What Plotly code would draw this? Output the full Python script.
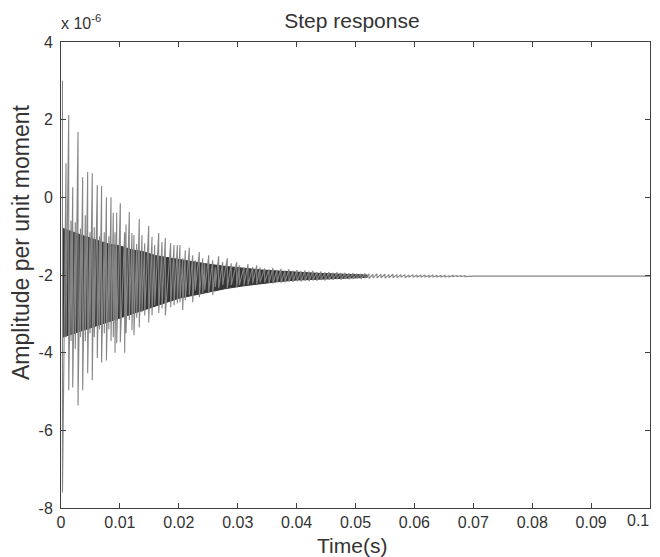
import plotly.graph_objects as go

# Spikes: time (s), upper value, lower value (x 1e-6)
spike_t = [0.00025, 0.00085, 0.00131, 0.00170, 0.00199, 0.00243, 0.00289, 0.00331, 0.00368, 0.00413,
           0.00453, 0.00492, 0.00531, 0.00565, 0.00616, 0.00654, 0.00689, 0.00735, 0.00771, 0.00812,
           0.00849, 0.00888, 0.00917, 0.00946, 0.01007, 0.01081, 0.01104, 0.01160, 0.01205, 0.01239,
           0.01285, 0.01329, 0.01375, 0.01421, 0.01489, 0.01545, 0.01591, 0.01659, 0.01715, 0.01771,
           0.01862, 0.01919, 0.01975, 0.02020, 0.02066, 0.02110, 0.02178, 0.02236, 0.02280, 0.02348,
           0.02406, 0.02440, 0.02508, 0.02576, 0.02620, 0.02677, 0.02745, 0.02823, 0.02891, 0.02983,
           0.03027, 0.03107, 0.03175, 0.03255, 0.03323, 0.03379, 0.03458,
           0.03531, 0.03599, 0.03667, 0.03735, 0.03803, 0.03871, 0.03939, 0.04007, 0.04075, 0.04143,
           0.04211, 0.04278, 0.04346, 0.04414, 0.04482, 0.04550, 0.04618, 0.04686, 0.04754, 0.04822,
           0.04890, 0.04958, 0.05025, 0.05093, 0.05161, 0.05229, 0.05297, 0.05365, 0.05433, 0.05501,
           0.05569, 0.05637, 0.05705, 0.05772, 0.05840, 0.05908, 0.05976, 0.06044, 0.06112, 0.06180,
           0.06248, 0.06316, 0.06384, 0.06452, 0.06520, 0.06587, 0.06655, 0.06723, 0.06791, 0.06859]
spike_hi = [3.0, 0.88, 2.12, -0.6, 0.26, -0.64, 1.68, -0.8, 0.52, -0.46,
            0.65, -0.9, 0.62, -0.77, 0.31, -1.0, 0.29, -0.9, 0.0, -1.0,
            0.0, -0.4, -0.9, -0.4, -0.15, -0.9, -0.7, -0.38, -0.92, -0.97,
            -1.2, -0.56, -0.97, -1.18, -0.74, -1.02, -1.23, -0.92, -1.15, -1.05,
            -1.18, -1.23, -1.23, -1.23, -1.57, -1.36, -1.3, -1.49, -1.62, -1.41,
            -1.57, -1.70, -1.49, -1.62, -1.8, -1.52, -1.67, -1.57, -1.70, -1.67,
            -1.75, -1.8, -1.72, -1.8, -1.75, -1.8, -1.83,
            -1.85, -1.82, -1.87, -1.84, -1.88, -1.85, -1.89, -1.87, -1.90, -1.88,
            -1.91, -1.89, -1.92, -1.91, -1.93, -1.92, -1.94, -1.93, -1.95, -1.94,
            -1.96, -1.95, -1.96, -1.97, -1.96, -1.97, -1.98, -1.97, -1.98, -1.98,
            -1.99, -1.98, -1.99, -1.99, -1.99, -2.00, -1.99, -2.00, -2.00, -2.00,
            -2.01, -2.00, -2.01, -2.01, -2.01, -2.02, -2.01, -2.02, -2.02, -2.02]
spike_lo = [-7.6, -3.6, -4.97, -3.7, -4.9, -3.9, -5.36, -3.6, -4.97, -3.7,
            -4.53, -3.5, -4.71, -3.6, -4.14, -3.4, -4.25, -3.5, -4.2, -3.4,
            -3.7, -3.6, -4.0, -3.76, -3.73, -4.0, -3.5, -3.16, -3.42, -3.55,
            -3.1, -3.35, -2.96, -3.04, -3.22, -3.04, -2.78, -2.98, -2.86, -3.04,
            -2.83, -2.78, -2.73, -2.7, -2.9, -2.65, -2.52, -2.7, -2.39, -2.57,
            -2.47, -2.39, -2.44, -2.52, -2.31, -2.34, -2.26, -2.34, -2.26, -2.31,
            -2.26, -2.26, -2.26, -2.21, -2.24, -2.19, -2.19,
            -2.20, -2.22, -2.18, -2.20, -2.19, -2.17, -2.18, -2.16, -2.17, -2.15,
            -2.16, -2.14, -2.15, -2.13, -2.14, -2.12, -2.13, -2.11, -2.12, -2.10,
            -2.11, -2.10, -2.09, -2.10, -2.08, -2.09, -2.08, -2.08, -2.07, -2.08,
            -2.07, -2.07, -2.07, -2.06, -2.07, -2.06, -2.06, -2.06, -2.06, -2.05,
            -2.06, -2.05, -2.05, -2.05, -2.05, -2.05, -2.04, -2.04, -2.04, -2.04]

# Settled tail
tail_t = [0.0700, 0.1000]
tail_v = [-2.03, -2.03]

# Dense dark band
band_t = [0.0003, 0.002, 0.004, 0.006, 0.008, 0.010, 0.012, 0.014, 0.016, 0.018,
          0.020, 0.022, 0.025, 0.028, 0.031, 0.034, 0.037, 0.040, 0.044, 0.048, 0.052]
band_hi = [-0.8, -0.9, -1.0, -1.1, -1.2, -1.25, -1.35, -1.4, -1.5, -1.55,
           -1.6, -1.65, -1.72, -1.78, -1.83, -1.87, -1.9, -1.93, -1.96, -1.98, -2.0]
band_lo = [-3.6, -3.5, -3.4, -3.3, -3.2, -3.1, -3.0, -2.9, -2.8, -2.7,
           -2.6, -2.55, -2.45, -2.35, -2.28, -2.22, -2.17, -2.13, -2.1, -2.08, -2.06]

x_ticks = [0, 0.01, 0.02, 0.03, 0.04, 0.05, 0.06, 0.07, 0.08, 0.09, 0.1]
x_labels = ["0", "0.01", "0.02", "0.03", "0.04", "0.05", "0.06", "0.07", "0.08", "0.09", "0.1"]
y_ticks = [-8, -6, -4, -2, 0, 2, 4]
y_labels = ["-8", "-6", "-4", "-2", "0", "2", "4"]

# build zigzag path from the read spikes
zx, zy = [], []
for t, h, l in zip(spike_t, spike_hi, spike_lo):
    zx += [t, t]
    zy += [h, l]
zx += tail_t
zy += tail_v

fig = go.Figure()
fig.add_trace(go.Scatter(x=band_t + band_t[::-1], y=band_hi + band_lo[::-1],
                         fill="toself", fillcolor="#363636", mode="lines",
                         line=dict(color="#363636", width=1), hoverinfo="skip"))
fig.add_trace(go.Scatter(x=zx, y=zy, mode="lines",
                         line=dict(color="#858585", width=1.1)))

font_family = "Liberation Sans, Arial, sans-serif"
txt = "#333333"
# the last x label sits at the right edge; it is drawn as an annotation nudged inward
shown_x_labels = x_labels[:-1] + [""]

# the page body adds an 8px offset, so the figure is 8px smaller on each lead side
fig.update_layout(
    width=652, height=549,
    margin=dict(l=53, r=10, t=34, b=49),
    paper_bgcolor="white", plot_bgcolor="white",
    showlegend=False,
    font=dict(family=font_family, color=txt, size=16),
    title=dict(text="Step response", x=0.494, xanchor="center", xref="paper",
               y=1 - 13 / 549, yanchor="middle", yref="container",
               font=dict(size=21, color=txt)),
    xaxis=dict(range=[0, 0.1], tickvals=x_ticks, ticktext=shown_x_labels,
               ticks="inside", ticklen=5, tickcolor="#404040",
               showline=True, linecolor="#404040", linewidth=1, mirror="ticks",
               showgrid=False, zeroline=False, automargin=False,
               tickfont=dict(size=16, color=txt)),
    yaxis=dict(range=[-8, 4], tickvals=y_ticks, ticktext=y_labels,
               ticks="inside", ticklen=5, tickcolor="#404040",
               showline=True, linecolor="#404040", linewidth=1, mirror="ticks",
               showgrid=False, zeroline=False, automargin=False, ticklabelstandoff=4,
               tickfont=dict(size=16, color=txt)),
)
fig.add_annotation(text=x_labels[-1], xref="x", yref="paper",
                   x=x_ticks[-1], y=0, xanchor="right", yanchor="top",
                   xshift=1, yshift=-2, showarrow=False,
                   font=dict(size=16, color=txt))
fig.add_annotation(text="x 10<sup>-6</sup>", xref="paper", yref="paper",
                   x=-0.003, y=1.0, xanchor="left", yanchor="bottom", yshift=8,
                   showarrow=False, font=dict(size=16, color=txt))
fig.add_annotation(text="Time(s)", xref="paper", yref="paper",
                   x=0.494, y=-37 / 466, xanchor="center", yanchor="middle",
                   showarrow=False, font=dict(size=21, color=txt))
fig.add_annotation(text="Amplitude per unit moment", xref="paper", yref="paper",
                   x=-40 / 589, y=265 / 466, xanchor="center", yanchor="middle",
                   textangle=-90, showarrow=False, font=dict(size=23, color=txt))

fig.write_html("out.html")
